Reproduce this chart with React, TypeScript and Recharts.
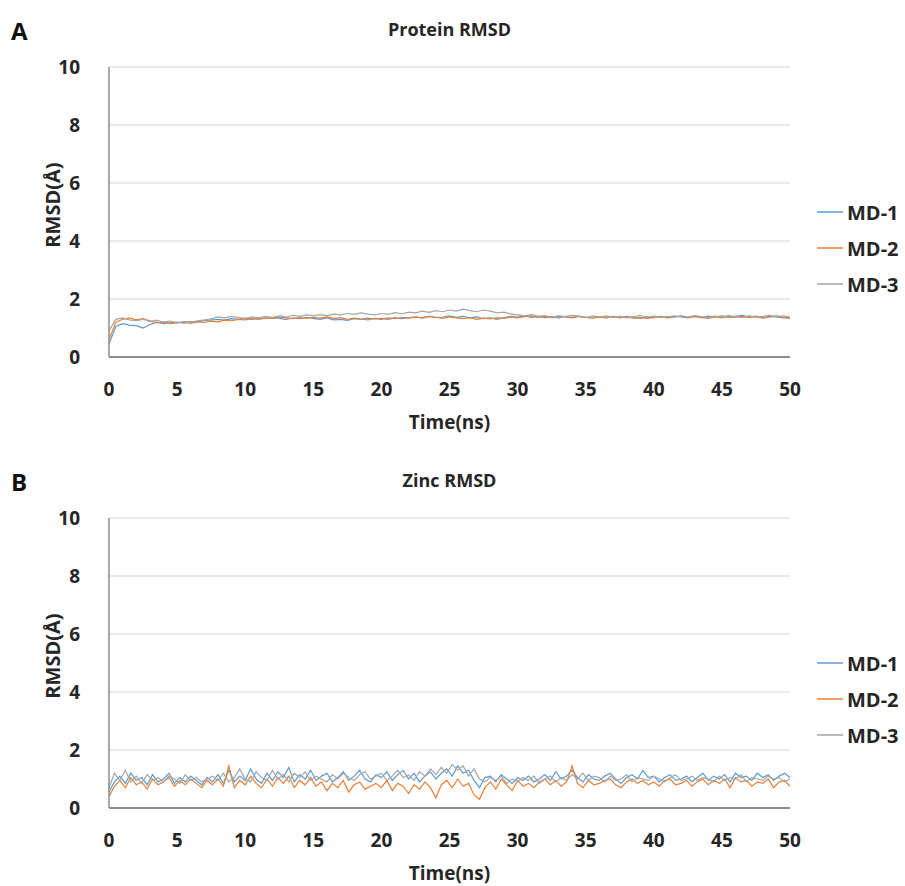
import React from 'react';
import { LineChart, Line, XAxis, YAxis, CartesianGrid } from 'recharts';

// sampling step (ns) of each trajectory
const PROTEIN_STEP = 0.5;
const ZINC_STEP = 0.4;

const timeTicks = [0, 5, 10, 15, 20, 25, 30, 35, 40, 45, 50];
const rmsdTicks = [0, 2, 4, 6, 8, 10];
const seriesNames = ['MD-1', 'MD-2', 'MD-3'];
const seriesColors = ['#5B9BD5', '#ED7D31', '#A5A5A5'];

// Protein RMSD (Å)
const proteinMd1 = [
  0.45, 1.05, 1.15, 1.1, 1.08, 1.0, 1.12, 1.2, 1.15, 1.18,
  1.2, 1.17, 1.22, 1.2, 1.25, 1.28, 1.3, 1.27, 1.32, 1.3,
  1.33, 1.3, 1.35, 1.32, 1.36, 1.33, 1.3, 1.35, 1.32, 1.37,
  1.33, 1.3, 1.35, 1.28, 1.3, 1.26, 1.32, 1.3, 1.34, 1.31,
  1.33, 1.3, 1.36, 1.32, 1.35, 1.38, 1.34, 1.4, 1.36, 1.38,
  1.42, 1.37, 1.4, 1.35, 1.38, 1.32, 1.35, 1.3, 1.36, 1.4,
  1.38, 1.42, 1.37, 1.4, 1.36, 1.39, 1.35, 1.4, 1.37, 1.41,
  1.36, 1.4, 1.38, 1.35, 1.39, 1.37, 1.4, 1.36, 1.33, 1.38,
  1.36, 1.4, 1.37, 1.42, 1.38, 1.35, 1.4, 1.37, 1.41, 1.38,
  1.42, 1.37, 1.4, 1.44, 1.38, 1.41, 1.36, 1.4, 1.38, 1.35,
  1.37,
];
const proteinMd2 = [
  0.6, 1.2, 1.3, 1.35, 1.28, 1.32, 1.25, 1.18, 1.2, 1.15,
  1.18, 1.2, 1.16, 1.22, 1.19, 1.24, 1.21, 1.27, 1.25, 1.3,
  1.28, 1.32, 1.3, 1.35, 1.33, 1.38, 1.35, 1.32, 1.36, 1.33,
  1.37, 1.34, 1.38, 1.33, 1.36, 1.3, 1.34, 1.31, 1.28, 1.33,
  1.3, 1.35, 1.32, 1.37, 1.34, 1.38, 1.36, 1.4, 1.37, 1.33,
  1.38, 1.35, 1.32, 1.36, 1.3, 1.34, 1.31, 1.36, 1.33, 1.38,
  1.35, 1.39, 1.42, 1.37, 1.4, 1.36, 1.41, 1.38, 1.35, 1.4,
  1.37, 1.33, 1.38, 1.36, 1.4, 1.35, 1.38, 1.34, 1.37, 1.33,
  1.36, 1.39, 1.35, 1.38, 1.42, 1.37, 1.4, 1.36, 1.33, 1.38,
  1.35, 1.4, 1.37, 1.41, 1.36, 1.39, 1.34, 1.38, 1.42, 1.37,
  1.32,
];
const proteinMd3 = [
  0.9, 1.3, 1.35, 1.28, 1.25, 1.3, 1.22, 1.27, 1.2, 1.24,
  1.18, 1.22, 1.2, 1.25, 1.28, 1.32, 1.38, 1.35, 1.4, 1.36,
  1.33, 1.38, 1.35, 1.4, 1.37, 1.42, 1.38, 1.44, 1.4, 1.45,
  1.42, 1.46, 1.43, 1.48, 1.45, 1.5, 1.47, 1.52, 1.48, 1.45,
  1.5, 1.47, 1.53, 1.49, 1.55, 1.52, 1.58, 1.54, 1.6, 1.56,
  1.62, 1.58, 1.65, 1.6, 1.56, 1.62, 1.58, 1.52, 1.55, 1.48,
  1.45, 1.42, 1.46, 1.4, 1.43, 1.38, 1.42, 1.39, 1.44, 1.4,
  1.36, 1.41, 1.38, 1.42, 1.37, 1.4, 1.35, 1.39, 1.43, 1.38,
  1.41, 1.36, 1.4, 1.37, 1.42, 1.38, 1.43, 1.39, 1.36, 1.41,
  1.38, 1.43, 1.39, 1.36, 1.42, 1.38, 1.4, 1.44, 1.39, 1.42,
  1.38,
];

// Zinc RMSD (Å)
const zincMd1 = [
  0.55, 0.9, 1.1, 0.85, 1.2, 0.95, 1.05, 0.8, 1.15, 0.9,
  1.0, 1.2, 0.85, 1.05, 0.9, 1.1, 0.95, 0.8, 1.05, 0.9,
  1.15, 0.85, 1.3, 0.9, 1.1, 0.95, 1.35, 1.0, 0.85, 1.2,
  0.95, 1.25, 1.05, 1.4, 0.9, 1.15, 1.0, 1.3, 0.95, 1.1,
  1.2, 0.9, 1.05, 1.25, 0.95, 1.1, 1.3, 1.0, 0.9, 1.15,
  1.05, 1.25, 0.95, 1.15, 1.3, 1.0, 1.2, 0.9, 1.1, 1.25,
  1.0, 1.2, 1.35, 1.1, 1.45, 1.2, 1.3, 0.95, 0.7, 1.05,
  1.1, 0.9, 1.15, 1.0, 0.85, 1.05, 0.95, 1.1, 0.9, 1.0,
  1.15, 0.95, 1.25, 1.0, 1.1, 1.3, 1.05, 0.9, 1.15, 1.0,
  0.95, 1.1, 1.2, 1.0, 0.85, 1.05, 1.15, 1.0, 1.3, 1.05,
  1.1, 0.9, 1.05, 1.15, 0.95, 1.0, 1.1, 0.9, 1.05, 1.2,
  0.95, 1.1, 1.0, 1.15, 0.9, 1.2, 1.05, 1.1, 0.95, 1.2,
  1.05, 1.15, 0.95, 1.1, 1.2, 1.05,
];
const zincMd2 = [
  0.4, 0.75, 0.95, 0.7, 1.05, 0.8, 0.9, 0.65, 1.0, 0.8,
  0.9, 1.05, 0.75, 0.95, 0.8, 1.0, 0.85, 0.7, 0.95, 0.8,
  1.0, 0.75, 1.45, 0.7, 0.95, 0.8, 1.1, 0.85, 0.7, 1.0,
  0.75, 1.05, 0.85, 1.1, 0.7, 0.95, 0.8, 1.05, 0.75, 0.9,
  0.6, 0.85, 0.7, 0.95, 0.55, 0.8, 0.9, 0.65, 0.75, 0.85,
  0.7, 0.95, 0.6, 0.85, 0.75, 0.5, 0.8, 0.65, 0.9, 0.7,
  0.35, 0.8, 0.95, 0.7, 1.0, 0.75, 0.85, 0.45, 0.3, 0.7,
  0.9, 0.65, 1.0, 0.8, 0.6, 0.95, 0.75, 0.85, 0.7, 0.9,
  1.0, 0.8, 0.95, 0.75, 0.9, 1.45, 0.85, 0.7, 0.95, 0.8,
  0.85, 0.95, 1.0, 0.8, 0.7, 0.9, 1.0, 0.85, 0.95, 0.8,
  0.9, 0.75, 0.95, 1.0, 0.8, 0.85, 0.95, 0.75, 0.9, 1.0,
  0.8, 0.95, 0.85, 1.0, 0.7, 1.05, 0.9, 0.95, 0.75, 0.9,
  0.85, 1.0, 0.7, 0.9, 0.95, 0.75,
];
const zincMd3 = [
  0.7, 1.2, 0.95, 1.3, 0.9, 1.1, 0.85, 1.15, 0.95, 1.05,
  0.9, 1.1, 1.0, 0.85, 1.15, 0.95, 1.05, 0.9, 1.0, 1.1,
  0.95, 1.2, 0.9, 1.05, 1.35, 1.0, 0.9, 1.25, 1.05, 0.95,
  1.3, 1.0, 1.15, 0.9, 1.2, 1.05, 1.25, 0.95, 1.1, 1.0,
  0.9, 1.15, 1.0, 1.2, 1.05, 0.95, 1.15, 1.25, 1.0, 1.1,
  1.2, 0.95, 1.1, 1.3, 1.05, 1.15, 0.95, 1.25, 1.1, 1.35,
  1.15, 1.4, 1.2, 1.5, 1.3, 1.45, 1.1, 1.35, 1.0, 0.9,
  1.05, 0.95, 1.1, 0.85, 1.0, 0.9, 1.05, 0.95, 1.1, 0.85,
  1.0, 1.1, 0.9, 1.05, 0.95, 1.15, 1.0, 1.2, 0.95, 1.1,
  1.05, 0.9, 1.1, 0.95, 1.0, 1.15, 0.9, 1.05, 1.0, 0.95,
  1.1, 1.0, 0.9, 1.05, 1.15, 0.95, 1.0, 1.1, 0.95, 1.05,
  1.0, 0.9, 1.1, 0.95, 1.05, 1.0, 1.15, 0.9, 1.05, 1.0,
  0.95, 1.1, 1.0, 1.05, 0.9, 1.0,
];

const buildRows = (step: number, series: number[][]) =>
  series[0].map((_, i) => {
    const row: Record<string, number> = { t: +(i * step).toFixed(2) };
    series.forEach((s, k) => {
      row[seriesNames[k]] = s[i];
    });
    return row;
  });

const proteinData = buildRows(PROTEIN_STEP, [proteinMd1, proteinMd2, proteinMd3]);
const zincData = buildRows(ZINC_STEP, [zincMd1, zincMd2, zincMd3]);

const FONT = '"Open Sans", "DejaVu Sans", sans-serif';
const TEXT = '#262626';
const textStyle = { fontFamily: FONT, fontWeight: 700, fill: TEXT };

const YTick = (props: any) => {
  const { x, y, payload } = props;
  return (
    <text x={x - 21} y={y} textAnchor="end" dominantBaseline="central" fontSize={19} {...textStyle}>
      {payload.value}
    </text>
  );
};

const XTick = (props: any) => {
  const { x, y, payload } = props;
  return (
    <text x={x} y={y + 24} textAnchor="middle" dominantBaseline="central" fontSize={19} {...textStyle}>
      {payload.value}
    </text>
  );
};

const XLabel = (props: any) => {
  const { viewBox } = props;
  return (
    <text
      x={viewBox.x + viewBox.width / 2}
      y={viewBox.y + 65}
      textAnchor="middle"
      dominantBaseline="central"
      fontSize={19}
      {...textStyle}
    >
      Time(ns)
    </text>
  );
};

const YLabel = (props: any) => {
  const { viewBox } = props;
  const x = viewBox.x - 7;
  const y = viewBox.y + viewBox.height / 2 - 7;
  return (
    <text
      x={x}
      y={y}
      transform={`rotate(-90 ${x} ${y})`}
      textAnchor="middle"
      dominantBaseline="central"
      fontSize={20}
      {...textStyle}
    >
      RMSD(Å)
    </text>
  );
};

interface PanelProps {
  top: number;
  letter: string;
  title: string;
  data: Record<string, number>[];
}

const Panel: React.FC<PanelProps> = ({ top, letter, title, data }) => (
  <div style={{ position: 'absolute', left: 0, top, width: 905, height: 440 }}>
    <div
      style={{
        position: 'absolute', left: 11, top: 14, fontFamily: FONT,
        fontWeight: 700, fontSize: 24, color: '#111',
      }}
    >
      {letter}
    </div>
    <div
      style={{
        position: 'absolute', left: 109, width: 681, top: 17, textAlign: 'center',
        fontFamily: FONT, fontWeight: 700, fontSize: 18, color: TEXT,
      }}
    >
      {title}
    </div>
    <LineChart
      width={905}
      height={440}
      data={data}
      margin={{ top: 67, right: 115, bottom: 3, left: 59 }}
    >
      <CartesianGrid vertical={false} stroke="#E3E3E3" strokeWidth={1.5} />
      <XAxis
        dataKey="t"
        type="number"
        domain={[0, 50]}
        ticks={timeTicks}
        height={80}
        axisLine={{ stroke: '#8C8C8C', strokeWidth: 2 }}
        tickLine={false}
        tick={<XTick />}
        label={<XLabel />}
      />
      <YAxis
        type="number"
        domain={[0, 10]}
        ticks={rmsdTicks}
        width={50}
        axisLine={{ stroke: '#8C8C8C', strokeWidth: 1.5 }}
        tickLine={false}
        tick={<YTick />}
        label={<YLabel />}
      />
      {seriesNames.map((name, k) => (
        <Line
          key={name}
          dataKey={name}
          stroke={seriesColors[k]}
          strokeWidth={1.2}
          dot={false}
          type="linear"
          isAnimationActive={false}
        />
      ))}
    </LineChart>
    <div style={{ position: 'absolute', left: 817, top: 194 }}>
      {seriesNames.map((name, k) => (
        <div
          key={name}
          style={{ display: 'flex', alignItems: 'center', height: 36 }}
        >
          <svg width={26} height={4} style={{ marginRight: 4 }}>
            <line x1={0} y1={2} x2={26} y2={2} stroke={seriesColors[k]} strokeWidth={1.5} />
          </svg>
          <span style={{ fontFamily: FONT, fontWeight: 700, fontSize: 20, color: TEXT }}>
            {name}
          </span>
        </div>
      ))}
    </div>
  </div>
);

export default function App() {
  return (
    <div style={{ position: 'absolute', left: 0, top: 0, width: 905, height: 886, background: '#fff' }}>
      <Panel top={0} letter="A" title="Protein RMSD" data={proteinData} />
      <Panel top={451} letter="B" title="Zinc RMSD" data={zincData} />
    </div>
  );
}
